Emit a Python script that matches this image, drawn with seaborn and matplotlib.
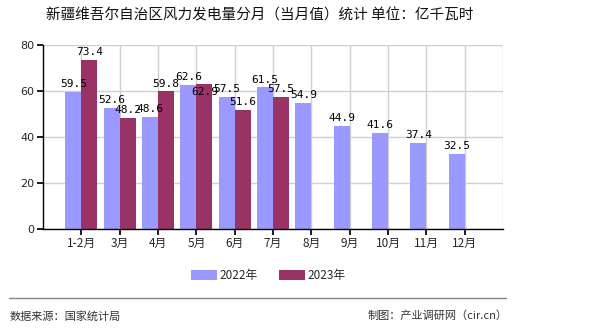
import numpy as np
import pandas as pd
import matplotlib
matplotlib.use("Agg")
import matplotlib.pyplot as plt
import seaborn as sns
from matplotlib.patches import Patch

months = ["1-2月", "3月", "4月", "5月", "6月", "7月", "8月", "9月", "10月", "11月", "12月"]
v2022 = [59.5, 52.6, 48.6, 62.6, 57.5, 61.5, 54.9, 44.9, 41.6, 37.4, 32.5]
v2023 = [73.4, 48.2, 59.8, 62.9, 51.6, 57.5, np.nan, np.nan, np.nan, np.nan, np.nan]
series = ["2022年", "2023年"]
colors = ["#9999FF", "#993366"]
title = "新疆维吾尔自治区风力发电量分月（当月值）统计 单位：亿千瓦时"
source = "数据来源：国家统计局"
credit = "制图：产业调研网（cir.cn）"
yticks = [0, 20, 40, 60, 80]

sns.set_theme(style="white")
plt.rcParams['font.family'] = ['Noto Sans CJK SC', 'DejaVu Sans']

df = pd.DataFrame({
    "月份": months * 2,
    "值": v2022 + v2023,
    "年份": [series[0]] * len(months) + [series[1]] * len(months),
})

fig = plt.figure(figsize=(5.9, 3.3), dpi=100)
ax = fig.add_axes([0.073, 0.306, 0.7795, 0.558])
sns.barplot(data=df, x="月份", y="值", hue="年份", order=months, hue_order=series,
            palette=colors, width=0.84, saturation=1, ax=ax, legend=False,
            linewidth=0, edgecolor="none")

ax.set_xlim(-1, 11)
ax.set_ylim(0, 80)
ax.set_yticks(yticks)
ax.set_xlabel("")
ax.set_ylabel("")
ax.set_axisbelow(True)
ax.grid(True, axis="both", color="#D0D0D0", lw=1)
ax.axvline(11, color="#D0D0D0", lw=1)
for s in ["top", "right"]:
    ax.spines[s].set_visible(False)
for s in ["left", "bottom"]:
    ax.spines[s].set_color("black")
    ax.spines[s].set_linewidth(1)
ax.tick_params(axis="both", which="both", length=4, direction="out", color="black",
               labelsize=8.5, left=True, bottom=True, pad=2)
for lbl in ax.get_yticklabels():
    lbl.set_fontfamily(['DejaVu Sans'])
    lbl.set_fontsize(8)

# value labels
for hi, vals in enumerate([v2022, v2023]):
    bars = ax.containers[hi]
    for i, (b, v) in enumerate(zip(bars, vals)):
        if v is None or np.isnan(v):
            continue
        x = b.get_x() + b.get_width() / 2
        off = 2
        if hi == 1 and abs(v2023[i] - v2022[i]) < 2:
            off = -9
        ax.annotate(f"{v:.1f}", (x, v), xytext=(0, off), textcoords="offset points",
                    ha="center", va="bottom", fontsize=8, family=['DejaVu Sans Mono'],
                    color="black")

# legend
handles = [Patch(facecolor=c, edgecolor="none") for c in colors]
fig.legend(handles, series, loc="center", bbox_to_anchor=(0.455, 0.164), ncol=2,
           frameon=False, fontsize=8.5, handlelength=2.2, handleheight=0.9,
           columnspacing=1.8, handletextpad=0.2)

fig.text(0.44, 0.952, title, ha="center", va="center", fontsize=10.5, color="#111111")
fig.add_artist(plt.Line2D([9 / 590, 506 / 590], [1 - 298 / 330] * 2, color="#888888", lw=1))
fig.text(10 / 590, 1 - 316 / 330, source, ha="left", va="center", fontsize=8, color="#333333")
fig.text(508 / 590, 1 - 316 / 330, credit, ha="right", va="center", fontsize=8, color="#333333")

fig.savefig("out.png", dpi=100)
